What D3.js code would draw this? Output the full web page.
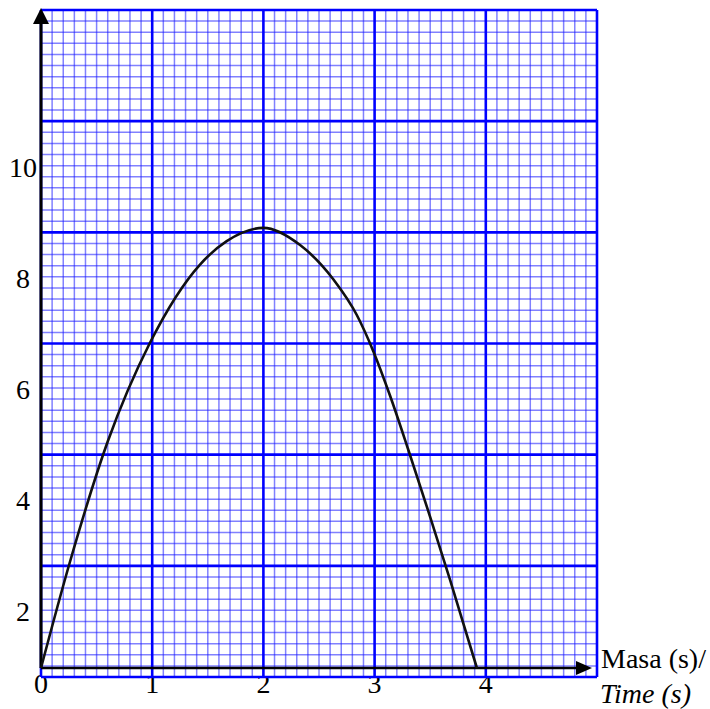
<!DOCTYPE html>
<html>
<head>
<meta charset="utf-8">
<script src="https://cdn.jsdelivr.net/npm/d3@7"></script>
<style>
  html, body { margin: 0; padding: 0; background: #fff; }
  svg { display: block; }
</style>
</head>
<body>
<svg id="chart" width="710" height="709"></svg>
<script>
// Curve samples: time (s) and value
const timeVals  = [0, 0.26, 0.6, 0.98, 1.43, 1.67, 2.0, 2.33, 2.63, 2.84, 2.99, 3.14, 3.30, 3.50, 3.68, 3.92];
const valueVals = [0, 1.91, 4.08, 5.86, 7.27, 7.69, 7.93, 7.62, 7.00, 6.36, 5.70, 4.90, 3.95, 2.72, 1.58, 0];

// Axis tick labels
const xTickVals = [0, 1, 2, 3, 4];
const yTickVals = [2, 4, 6, 8, 10];
const xTitle = "Masa (s)/";
const xTitleEn = "Time (s)";

const FONT = "'Liberation Serif', 'Times New Roman', serif";

const svg = d3.select("#chart");

// Data scales
const x = d3.scaleLinear().domain([0, 5]).range([41, 597]);
const y = d3.scaleLinear().domain([0, 12]).range([668, 2]);

// Graph-paper scales (minor-square index -> px)
const gx = d3.scaleLinear().domain([0, 50]).range([41, 597]);
const gy = d3.scaleLinear().domain([0, 60]).range([677, 10]);

// x tick labels sit under the paper, which trims their tops
svg.append("g").selectAll("text")
  .data(xTickVals).join("text")
  .attr("x", d => x(d))
  .attr("y", 693)
  .attr("text-anchor", "middle")
  .style("font-family", FONT)
  .style("font-size", "28px")
  .text(d => d);

// Graph paper
const paper = svg.append("g");
paper.append("rect")
  .attr("x", gx(0)).attr("y", gy(60))
  .attr("width", gx(50) - gx(0)).attr("height", gy(0) - gy(60))
  .attr("fill", "#fff");

const minorX = d3.range(0, 51).filter(i => i % 10 !== 0);
const minorY = d3.range(0, 61).filter(i => i % 10 !== 0);
const majorX = d3.range(0, 51, 10);
const majorY = d3.range(0, 61, 10);

paper.append("g")
  .attr("stroke", "#1a1aff").attr("stroke-opacity", 0.55).attr("stroke-width", 1.5)
  .call(g => g.selectAll("line.vx").data(minorX).join("line")
    .attr("x1", d => gx(d)).attr("x2", d => gx(d))
    .attr("y1", gy(0)).attr("y2", gy(60)))
  .call(g => g.selectAll("line.hy").data(minorY).join("line")
    .attr("y1", d => gy(d)).attr("y2", d => gy(d))
    .attr("x1", gx(0)).attr("x2", gx(50)));

paper.append("g")
  .attr("stroke", "#0000ff").attr("stroke-width", 2.6)
  .call(g => g.selectAll("line.vx").data(majorX).join("line")
    .attr("x1", d => gx(d)).attr("x2", d => gx(d))
    .attr("y1", gy(0)).attr("y2", gy(60)))
  .call(g => g.selectAll("line.hy").data(majorY).join("line")
    .attr("y1", d => gy(d)).attr("y2", d => gy(d))
    .attr("x1", gx(0)).attr("x2", gx(50)));

// Axes
const axes = svg.append("g");
axes.append("line")
  .attr("x1", x(0)).attr("x2", 578)
  .attr("y1", y(0)).attr("y2", y(0))
  .attr("stroke", "#000").attr("stroke-width", 2.6);
axes.append("path")
  .attr("d", `M${592},${y(0)} L${576},${y(0) - 7} L${576},${y(0) + 7} Z`)
  .attr("fill", "#000");
axes.append("line")
  .attr("x1", x(0)).attr("x2", x(0))
  .attr("y1", y(0)).attr("y2", 22)
  .attr("stroke", "#000").attr("stroke-width", 3);
axes.append("path")
  .attr("d", `M${x(0)},8 L${x(0) - 8},24 L${x(0) + 8},24 Z`)
  .attr("fill", "#000");

// Curve
const line = d3.line()
  .x(d => x(d[0]))
  .y(d => y(d[1]))
  .curve(d3.curveMonotoneX);
svg.append("path")
  .datum(d3.zip(timeVals, valueVals))
  .attr("d", line)
  .attr("fill", "none")
  .attr("stroke", "#111")
  .attr("stroke-width", 2.6);

// y tick labels, set half a major square below their value
const LABEL_SHIFT = 64;
svg.append("g").selectAll("text")
  .data(yTickVals).join("text")
  .attr("x", 23)
  .attr("y", d => y(d) + LABEL_SHIFT)
  .attr("text-anchor", "middle")
  .style("font-family", FONT)
  .style("font-size", "28px")
  .text(d => d);

// x axis title
svg.append("text")
  .attr("x", 601).attr("y", 668)
  .style("font-family", FONT)
  .style("font-size", "28px")
  .text(xTitle);
svg.append("text")
  .attr("x", 600).attr("y", 703)
  .style("font-family", FONT)
  .style("font-size", "28px")
  .style("font-style", "italic")
  .text(xTitleEn);
</script>
</body>
</html>
